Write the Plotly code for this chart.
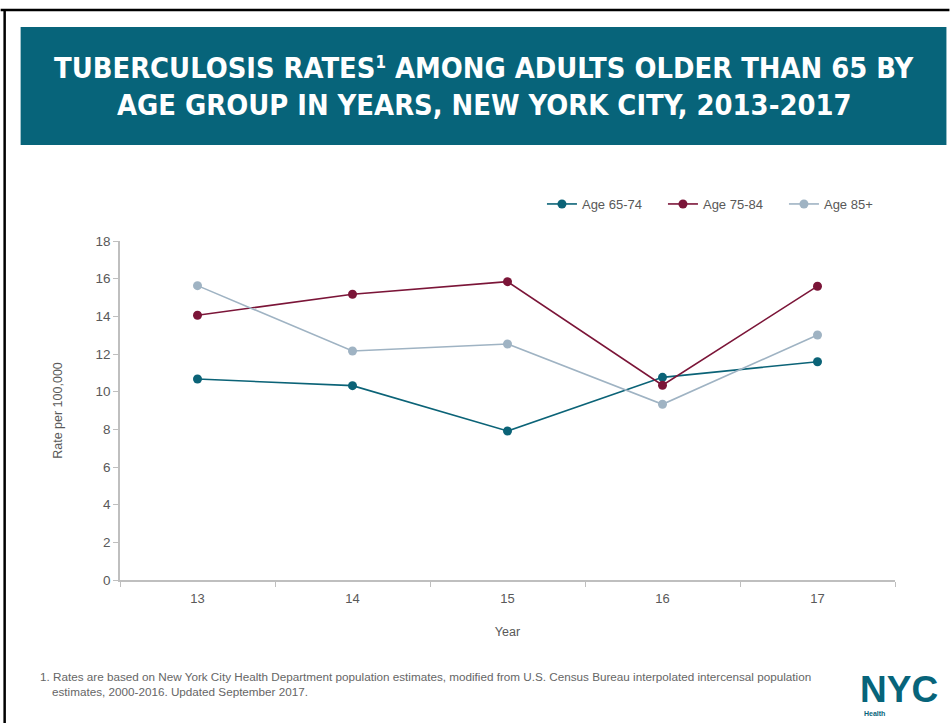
import plotly.graph_objects as go

years = ["13", "14", "15", "16", "17"]
series_names = ["Age 65-74", "Age 75-84", "Age 85+"]
age_65_74 = [10.67, 10.32, 7.91, 10.76, 11.59]
age_75_84 = [14.06, 15.17, 15.84, 10.34, 15.60]
age_85_plus = [15.63, 12.16, 12.53, 9.33, 13.01]
y_ticks = [0, 2, 4, 6, 8, 10, 12, 14, 16, 18]

colors = ["#0b6377", "#7b1538", "#9fb3c3"]
values = [age_65_74, age_75_84, age_85_plus]

W, H = 950, 723
L, R, T, B = 119.5, 895.5, 241, 580

fig = go.Figure()
for name, vals, col in zip(series_names, values, colors):
    fig.add_trace(go.Scatter(
        x=years, y=vals, name=name, mode="lines+markers",
        line=dict(color=col, width=1.6),
        marker=dict(color=col, size=9),
    ))

gray = "#595959"
axis_col = "#bfbfbf"

def px(x):
    return (x - L) / (R - L)

def py(y):
    return (B - y) / (B - T)

fig.update_layout(
    width=W, height=H,
    margin=dict(l=L, r=W - R, t=T, b=H - B),
    paper_bgcolor="white", plot_bgcolor="white",
    font=dict(family="Liberation Sans, Arial, sans-serif", color=gray, size=12),
    showlegend=True,
    legend=dict(orientation="h", x=px(542), y=py(204), xanchor="left", yanchor="middle",
                font=dict(size=13, color=gray), itemwidth=30, entrywidth=76,
                bgcolor="rgba(0,0,0,0)"),
    xaxis=dict(type="category", range=[-0.5, 4.5], showgrid=False, showline=True,
               linecolor=axis_col, linewidth=1.5,
               ticks="outside", tickson="boundaries", ticklen=5, tickcolor=axis_col,
               tickfont=dict(size=13, color=gray), ticklabelstandoff=6,
               title=dict(text="Year", font=dict(size=12.5, color=gray), standoff=22)),
    yaxis=dict(range=[0, 18], tickvals=y_ticks, showgrid=False, zeroline=False, showline=True,
               linecolor=axis_col, linewidth=1.5, ticks="outside", ticklen=5, tickcolor=axis_col,
               tickfont=dict(size=13.5, color=gray),
               title=dict(text="Rate per 100,000", font=dict(size=12.5, color=gray), standoff=30)),
)

shapes = [
    dict(type="line", xref="paper", yref="paper", x0=px(0), x1=px(950), y0=py(10), y1=py(10),
         line=dict(color="black", width=2.5)),
    dict(type="line", xref="paper", yref="paper", x0=px(4), x1=px(4), y0=py(10), y1=py(723),
         line=dict(color="black", width=2.5)),
    dict(type="rect", xref="paper", yref="paper", x0=px(20), x1=px(947), y0=py(27), y1=py(145),
         fillcolor="#07647a", line=dict(width=0), layer="below"),
]
fig.update_layout(shapes=shapes)

title_font = dict(family="DejaVu Sans Condensed, Liberation Sans, Arial, sans-serif",
                  size=28.8, color="white")
annotations = [
    dict(text="<b>TUBERCULOSIS RATES<span style='font-size:24px'><sup>1</sup></span> AMONG ADULTS OLDER THAN 65 BY</b>",
         x=px(484), y=py(68), xref="paper", yref="paper", showarrow=False,
         xanchor="center", yanchor="middle", font=title_font),
    dict(text="<b>AGE GROUP IN YEARS, NEW YORK CITY, 2013-2017</b>",
         x=px(484), y=py(105), xref="paper", yref="paper", showarrow=False,
         xanchor="center", yanchor="middle", font=title_font),
    dict(text="1. Rates are based on New York City Health Department population estimates, modified from U.S. Census Bureau interpolated intercensal population",
         x=px(37), y=py(676), xref="paper", yref="paper", showarrow=False,
         xanchor="left", yanchor="middle",
         font=dict(family="Liberation Sans, Arial, sans-serif", size=11.7, color="#666666")),
    dict(text="estimates, 2000-2016. Updated September 2017.",
         x=px(49), y=py(691), xref="paper", yref="paper", showarrow=False,
         xanchor="left", yanchor="middle",
         font=dict(family="Liberation Sans, Arial, sans-serif", size=11.7, color="#666666")),
    dict(text="<b>NYC</b>", x=px(900), y=py(689), xref="paper", yref="paper", showarrow=False,
         xanchor="center", yanchor="middle",
         font=dict(family="Liberation Sans, Arial, sans-serif", size=37, color="#07647a")),
    dict(text="<b>Health</b>", x=px(862), y=py(713), xref="paper", yref="paper", showarrow=False,
         xanchor="left", yanchor="middle",
         font=dict(family="Liberation Sans, Arial, sans-serif", size=7, color="#07647a")),
]
fig.update_layout(annotations=annotations)

fig.write_html("out.html")
